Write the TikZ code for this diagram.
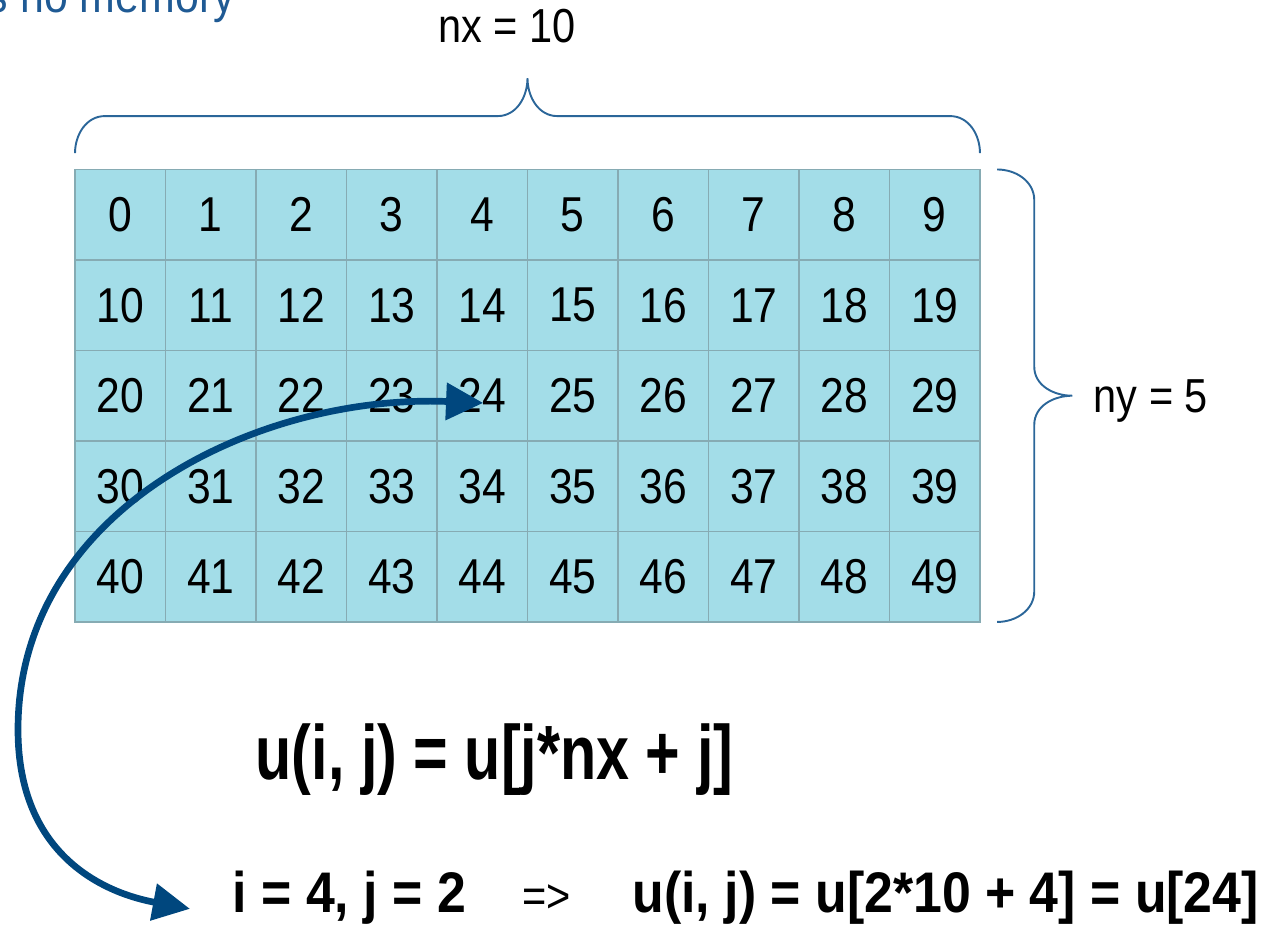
\documentclass[tikz,border=0pt]{standalone}
\usepackage{fontspec}
\setmainfont{Liberation Sans}
\newfontfamily\cellfont[FakeStretch=0.87]{Liberation Sans}
\newfontfamily\formfont[FakeStretch=0.77]{Liberation Sans}
\newfontfamily\calcfont[FakeStretch=0.905]{Liberation Sans}
\usepackage{xcolor}
\usepackage{tikz}
\usetikzlibrary{arrows.meta, positioning, calc}

\definecolor{cellfill}{HTML}{A3DDE8}
\definecolor{cellline}{HTML}{86ABB3}
\definecolor{bracecol}{HTML}{2B6699}
\definecolor{arrowcol}{HTML}{00477E}
\definecolor{notecol}{HTML}{1F5A94}

\begin{document}
\begin{tikzpicture}[
    cell/.style={draw=cellline, fill=cellfill, line width=0.5pt, minimum size=1cm, inner sep=0pt,
        font=\cellfont\fontsize{15.4}{18}\selectfont},
    bracepath/.style={draw=bracecol, line width=0.6pt},
    dimlabel/.style={inner sep=0pt, font=\cellfont\fontsize{15}{18}\selectfont},
    notetext/.style={inner sep=0pt, text=notecol, font=\cellfont\fontsize{15.5}{18}\selectfont},
    bigformula/.style={inner sep=0pt, font=\formfont\bfseries\fontsize{24.2}{28}\selectfont},
    calcformula/.style={inner sep=0pt, font=\calcfont\bfseries\fontsize{18}{22}\selectfont},
    jump/.style={draw=arrowcol, line width=2.1pt,
        {Triangle[length=0.41cm,width=0.4cm]}-{Triangle[length=0.41cm,width=0.4cm]}}
]
    % 画布
    \useasboundingbox (-0.829,-3.436) rectangle (13.227,6.873);
    \clip (-0.829,-3.436) rectangle (13.227,6.873);

    % 上一行的残留文字
    \node[notetext, anchor=base west] (memnote) at (-0.98,6.74) {s no memory};

    % 网格 nx x ny
    \foreach \r in {0,...,4}
        \foreach \c in {0,...,9} {
            \pgfmathtruncatemacro{\n}{\r*10+\c}
            \node[cell] (c\n) at (\c+0.5,4.5-\r) {\n};
        }

    % 上方大括号
    \coordinate (nxtip) at (5,6.01);
    \draw[bracepath] (0,5.18) to[out=90,in=180] (0.33,5.59) -- (4.67,5.59)
        to[out=0,in=270] (nxtip) to[out=270,in=180] (5.33,5.59) -- (9.67,5.59)
        to[out=0,in=90] (10,5.18);
    \node[dimlabel, anchor=base] (nxlabel) at (4.77,6.40) {nx = 10};

    % 右侧大括号
    \coordinate (nytip) at (11.02,2.5);
    \draw[bracepath] (10.19,5.0) to[out=0,in=90] (10.6,4.66) -- (10.6,2.82)
        to[out=270,in=180] (nytip) to[out=180,in=90] (10.6,2.18) -- (10.6,0.34)
        to[out=270,in=0] (10.19,0);
    \node[dimlabel, anchor=base west] (nylabel) at (11.25,2.31) {ny = 5};

    % 公式
    \node[bigformula, anchor=base west] (formula) at (1.99,-1.746) {u(i, j) = u[j*nx + j]};
    \node[calcformula, anchor=base west] (example) at (1.735,-3.215) {i = 4, j = 2};
    \node[dimlabel, anchor=base] (implies) at (5.21,-3.215) {=>};
    \node[calcformula, anchor=base west] (result) at (6.155,-3.215) {u(i, j) = u[2*10 + 4] = u[24]};

    % 弯箭头
    \coordinate (jumpstart) at (4.51,2.42);
    \coordinate (jumpturn) at (-0.63,-1.19);
    \coordinate (jumpend) at (1.27,-3.17);
    \draw[jump] (jumpstart) .. controls (2.05,2.52) and (-0.63,1.27) .. (jumpturn)
        .. controls (-0.63,-2.6) and (0.35,-3.0) .. (jumpend);
\end{tikzpicture}
\end{document}
